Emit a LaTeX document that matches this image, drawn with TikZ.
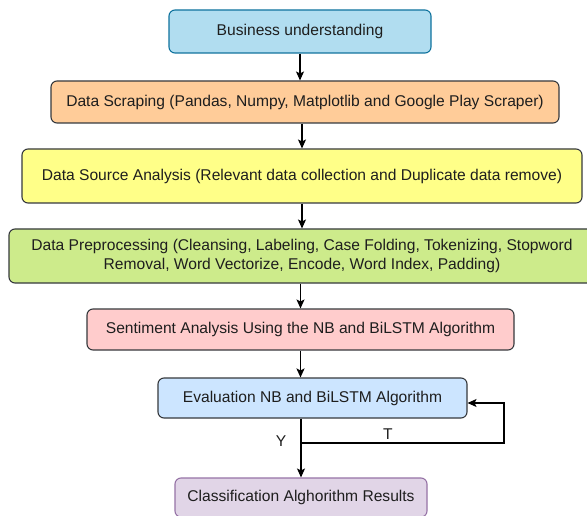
\documentclass[tikz,border=0pt]{standalone}
\usepackage{fontspec}
\setmainfont{Liberation Sans}
\usetikzlibrary{arrows.meta}
\definecolor{txt}{HTML}{1E1E1E}
\definecolor{c1f}{HTML}{B1DDF0}\definecolor{c1d}{HTML}{10739E}
\definecolor{c2f}{HTML}{FFCC99}
\definecolor{c3f}{HTML}{FFFF88}
\definecolor{c4f}{HTML}{CDEB8B}
\definecolor{c5f}{HTML}{FFCCCC}
\definecolor{c6f}{HTML}{CCE5FF}
\definecolor{c7f}{HTML}{E1D5E7}\definecolor{c7d}{HTML}{9673A6}
\definecolor{gd}{HTML}{36393D}
\tikzset{
  box/.style={draw=gd, rounded corners=6pt, line width=1.1pt, inner sep=0pt,
    text=txt, align=center, font=\fontsize{15.6}{19}\selectfont},
  arr/.style={draw=black, line width=1.2pt, -{Stealth[length=9pt,width=8pt,inset=2pt]}},
  lnk/.style={draw=black, line width=1.2pt},
  lbl/.style={text=txt, inner sep=0pt, font=\fontsize{15.6}{19}\selectfont}
}
\begin{document}
\begin{tikzpicture}[x=1pt,y=-1pt]
\useasboundingbox[fill=white] (0,0) rectangle (587,516);
\node[box, fill=c1f, draw=c1d, minimum width=262pt, minimum height=43pt] (B1) at (300,31.5) {Business understanding};
\node[box, fill=c2f, minimum width=508pt, minimum height=42pt] (B2) at (305,102) {Data Scraping (Pandas, Numpy, Matplotlib and Google Play Scraper)};
\node[box, fill=c3f, minimum width=560pt, minimum height=54pt] (B3) at (302,176) {Data Source Analysis (Relevant data collection and Duplicate data remove)};
\node[box, fill=c4f, minimum width=586pt, minimum height=54pt] (B4) at (302,256) {Data Preprocessing (Cleansing, Labeling, Case Folding, Tokenizing, Stopword\\Removal, Word Vectorize, Encode, Word Index, Padding)};
\node[box, fill=c5f, minimum width=427pt, minimum height=41pt] (B5) at (300.5,329.5) {Sentiment Analysis Using the NB and BiLSTM Algorithm};
\node[box, fill=c6f, minimum width=309pt, minimum height=40pt] (B6) at (312.5,398) {Evaluation NB and BiLSTM Algorithm};
\node[box, fill=c7f, draw=c7d, minimum width=252pt, minimum height=39pt] (B7) at (301,497.5) {Classification Alghorithm Results};

\draw[arr] (B1.south) -- (B1.south |- B2.north);
\draw[arr] (B2.south -| B3.center) -- (B3.north);
\draw[arr] (B3.south) -- (B4.north);
\draw[arr] (B4.south -| B5.center) -- (B5.north);
\draw[arr, line width=1.6pt] (B5.south) -- (B5.south |- B6.north);

\coordinate (J) at (301,443);
\coordinate (R1) at (504,443);
\coordinate (R2) at (504,403);
\draw[lnk] (B6.south -| J) -- (J);
\draw[arr] (J) -- (J |- B7.north);
\draw[arr] (J) -- (R1) -- (R2) -- (R2 -| B6.east);

\node[lbl] (Y) at (281,441) {Y};
\node[lbl] (T) at (388,434) {T};
\end{tikzpicture}
\end{document}
